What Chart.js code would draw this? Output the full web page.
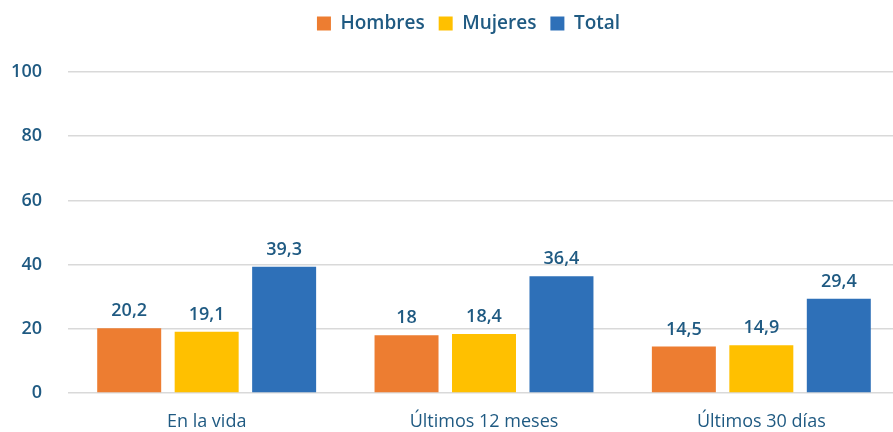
<!DOCTYPE html>
<html>
<head>
<meta charset="utf-8">
<script src="https://cdn.jsdelivr.net/npm/chart.js@4"></script>
<style>
  html, body { margin: 0; padding: 0; background: #fff; }
  #wrap { width: 893px; height: 432px; }
</style>
</head>
<body>
<div id="wrap"><canvas id="chart"></canvas></div>
<script>
// Chart data
const categories = ['En la vida', 'Últimos 12 meses', 'Últimos 30 días'];
const hombres = [20.2, 18, 14.5];
const mujeres = [19.1, 18.4, 14.9];
const total = [39.3, 36.4, 29.4];
const yTicks = [0, 20, 40, 60, 80, 100];

const textColor = '#1f5a82';

// Draw value labels above each bar
const valueLabels = {
    id: 'valueLabels',
    afterDatasetsDraw(chart) {
        const ctx = chart.ctx;
        ctx.save();
        ctx.fillStyle = textColor;
        ctx.font = '600 18px "Open Sans"';
        ctx.textAlign = 'center';
        ctx.textBaseline = 'bottom';
        chart.data.datasets.forEach((ds, i) => {
            chart.getDatasetMeta(i).data.forEach((bar, j) => {
                const label = String(ds.data[j]).replace('.', ',');
                ctx.fillText(label, bar.x, bar.y - 8);
            });
        });
        ctx.restore();
    }
};

// Legend gets a fixed block height and a small shift right;
// the category axis runs a little past the right edge like the original
const layoutTweak = {
    id: 'layoutTweak',
    beforeInit(chart) {
        const fit = chart.legend.fit;
        chart.legend.fit = function() {
            fit.call(this);
            this.height = 72;
        };
    },
    afterLayout(chart) {
        chart.legend.left += 22;
        chart.legend.right += 22;
        const x = chart.scales.x;
        x.right = 900;
        x.width = x.right - x.left;
        x.configure();
        chart.chartArea.right = 900;
        chart.chartArea.width = 900 - chart.chartArea.left;
    }
};

const ctx = document.getElementById('chart').getContext('2d');
new Chart(ctx, {
    type: 'bar',
    data: {
        labels: categories,
        datasets: [
            { label: 'Hombres', data: hombres, backgroundColor: '#ed7d31' },
            { label: 'Mujeres', data: mujeres, backgroundColor: '#ffc000' },
            { label: 'Total', data: total, backgroundColor: '#2e70b8' }
        ]
    },
    options: {
        responsive: true,
        maintainAspectRatio: false,
        animation: false,
        layout: { padding: 0 },
        datasets: {
            bar: { categoryPercentage: 0.838, barPercentage: 0.826 }
        },
        plugins: {
            legend: {
                position: 'top',
                labels: {
                    color: textColor,
                    font: { family: '"Open Sans"', size: 19, weight: '600' },
                    boxWidth: 14,
                    boxHeight: 14,
                    padding: 14
                }
            },
            tooltip: { enabled: false }
        },
        scales: {
            x: {
                afterFit(scale) { scale.height = 39; },
                grid: { display: false },
                border: { display: false },
                ticks: {
                    color: textColor,
                    font: { family: '"Open Sans"', size: 18 },
                    padding: 10,
                    maxRotation: 0
                }
            },
            y: {
                min: 0,
                max: 100,
                afterFit(scale) { scale.width = 68; },
                afterBuildTicks(scale) { scale.ticks = yTicks.map(v => ({ value: v })); },
                grid: { color: '#d9d9d9', lineWidth: 1.5, drawTicks: false },
                border: { display: false },
                ticks: {
                    color: textColor,
                    font: { family: '"Open Sans"', size: 18, weight: '600' },
                    padding: 26
                }
            }
        }
    },
    plugins: [valueLabels, layoutTweak]
});
</script>
</body>
</html>
